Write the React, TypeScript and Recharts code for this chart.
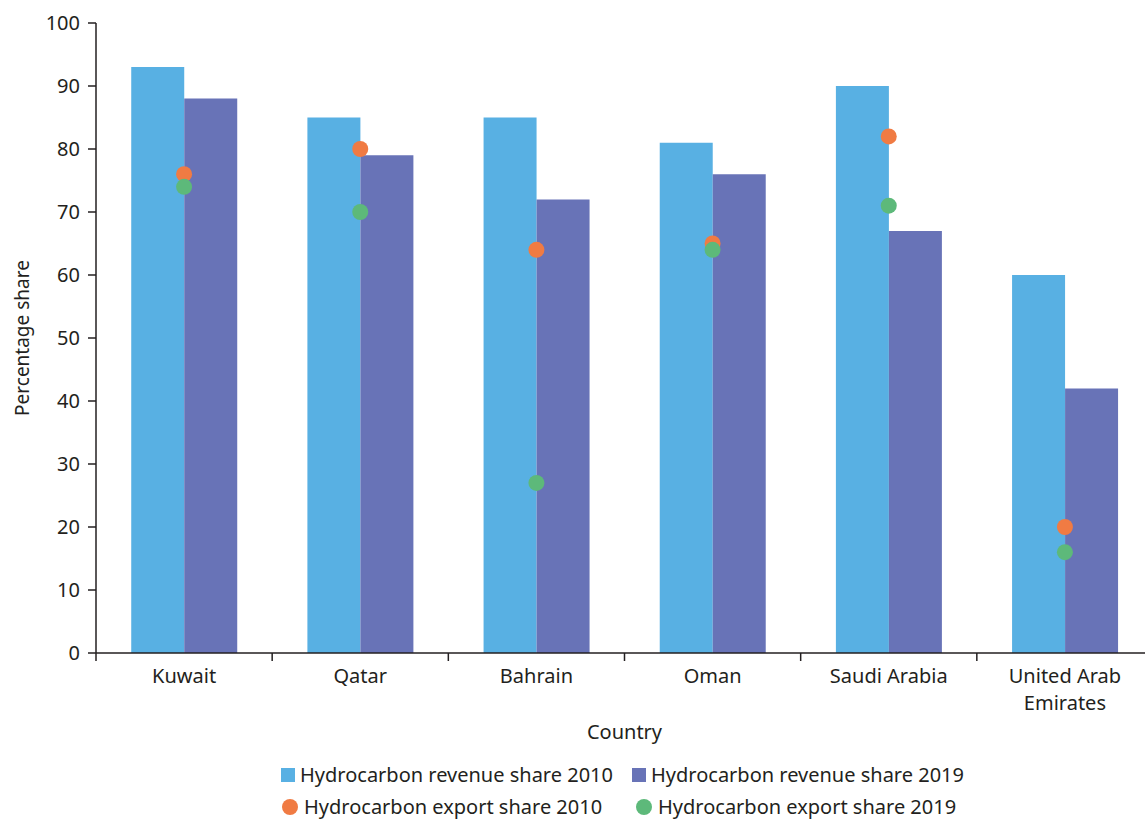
import React from 'react';
import { ComposedChart, Bar, Line, XAxis, YAxis } from 'recharts';

// Hydrocarbon dependence of GCC economies (percentage shares)
const countries = ['Kuwait', 'Qatar', 'Bahrain', 'Oman', 'Saudi Arabia', 'United Arab Emirates'];
const revenue2010 = [93, 85, 85, 81, 90, 60];
const revenue2019 = [88, 79, 72, 76, 67, 42];
const export2010 = [76, 80, 64, 65, 82, 20];
const export2019 = [74, 70, 27, 64, 71, 16];
const yTicks = [0, 10, 20, 30, 40, 50, 60, 70, 80, 90, 100];

const seriesNames = {
  revenue2010: 'Hydrocarbon revenue share 2010',
  revenue2019: 'Hydrocarbon revenue share 2019',
  export2010: 'Hydrocarbon export share 2010',
  export2019: 'Hydrocarbon export share 2019',
};

const COLORS = {
  revenue2010: '#58B0E3',
  revenue2019: '#6873B7',
  export2010: '#F07B43',
  export2019: '#5DB97A',
};

const TEXT = '#231F20';
const FONT = '"Noto Sans", sans-serif';
const TICK_SIZE = 8;
const TICK_MARGIN = 8;

const data = countries.map((country, i) => ({
  country,
  revenue2010: revenue2010[i],
  revenue2019: revenue2019[i],
  export2010: export2010[i],
  export2019: export2019[i],
}));

// Wrap long category names onto several lines
function wrapWords(label: string, maxChars: number): string[] {
  const words = label.split(' ');
  const lines: string[] = [];
  let current = '';
  for (const w of words) {
    const next = current ? current + ' ' + w : w;
    if (next.length > maxChars && current) {
      lines.push(current);
      current = w;
    } else {
      current = next;
    }
  }
  if (current) lines.push(current);
  return lines;
}

// Category label plus tick marks on the band boundaries
const CountryTick = (props: any) => {
  const { x, y, payload, index, visibleTicksCount, width } = props;
  const half =
    payload && typeof payload.offset === 'number' && payload.offset > 0
      ? payload.offset
      : width / (visibleTicksCount || countries.length) / 2;
  const axisY = y - TICK_SIZE - TICK_MARGIN;
  const lines = wrapWords(String(payload.value), 12);
  const last = index === (visibleTicksCount || countries.length) - 1;
  return (
    <g>
      <line x1={x - half} x2={x - half} y1={axisY} y2={axisY + TICK_SIZE} stroke={TEXT} strokeWidth={1.5} />
      {last && (
        <line x1={x + half} x2={x + half} y1={axisY} y2={axisY + TICK_SIZE} stroke={TEXT} strokeWidth={1.5} />
      )}
      <text x={x} y={y} textAnchor="middle" fill={TEXT} fontSize={20} fontFamily={FONT}>
        {lines.map((line, i) => (
          <tspan key={i} x={x} dy={i === 0 ? '0.71em' : 27}>
            {line}
          </tspan>
        ))}
      </text>
    </g>
  );
};

const XLabel = (props: any) => {
  const vb = props.viewBox;
  return (
    <text
      x={vb.x + vb.width / 2}
      y={vb.y + 78}
      textAnchor="middle"
      dominantBaseline="central"
      fill={TEXT}
      fontSize={20}
      fontFamily={FONT}
    >
      Country
    </text>
  );
};

const YLabel = (props: any) => {
  const vb = props.viewBox;
  const cx = 22;
  const cy = vb.y + vb.height / 2;
  return (
    <text
      x={cx}
      y={cy}
      transform={`rotate(-90 ${cx} ${cy})`}
      textAnchor="middle"
      dominantBaseline="central"
      fill={TEXT}
      fontSize={19}
      fontFamily={FONT}
    >
      Percentage share
    </text>
  );
};

const LegendItem = ({
  left,
  top,
  shape,
  color,
  label,
}: {
  left: number;
  top: number;
  shape: 'square' | 'circle';
  color: string;
  label: string;
}) => (
  <div
    style={{
      position: 'absolute',
      left,
      top,
      display: 'flex',
      alignItems: 'center',
      height: 30,
      whiteSpace: 'nowrap',
    }}
  >
    <span
      style={{
        display: 'inline-block',
        width: shape === 'square' ? 14 : 16,
        height: shape === 'square' ? 14 : 16,
        borderRadius: shape === 'circle' ? '50%' : 0,
        background: color,
        marginRight: shape === 'square' ? 5 : 6,
      }}
    />
    <span style={{ fontSize: 20, color: TEXT, fontFamily: FONT, lineHeight: '30px' }}>{label}</span>
  </div>
);

export default function App() {
  return (
    <div
      style={{
        position: 'absolute',
        left: 0,
        top: 0,
        width: 1145,
        height: 819,
        overflow: 'hidden',
        background: '#ffffff',
        fontFamily: FONT,
      }}
    >
      <ComposedChart
        width={1160}
        height={760}
        data={data}
        margin={{ top: 23, right: 7, bottom: 0, left: 0 }}
        barCategoryGap="20%"
        barGap={0}
      >
        <XAxis
          dataKey="country"
          height={107}
          tick={<CountryTick />}
          tickSize={TICK_SIZE}
          tickMargin={TICK_MARGIN}
          axisLine={{ stroke: TEXT, strokeWidth: 1.5 }}
          tickLine={false}
          interval={0}
          label={<XLabel />}
        />
        <YAxis
          width={96}
          domain={[0, 100]}
          ticks={yTicks}
          interval={0}
          tickSize={TICK_SIZE}
          tickMargin={TICK_MARGIN}
          axisLine={{ stroke: TEXT, strokeWidth: 1.5 }}
          tickLine={{ stroke: TEXT, strokeWidth: 1.5 }}
          tick={{ fill: TEXT, fontSize: 20, fontFamily: FONT }}
          label={<YLabel />}
        />
        <Bar
          dataKey="revenue2010"
          name={seriesNames.revenue2010}
          fill={COLORS.revenue2010}
          isAnimationActive={false}
        />
        <Bar
          dataKey="revenue2019"
          name={seriesNames.revenue2019}
          fill={COLORS.revenue2019}
          isAnimationActive={false}
        />
        <Line
          dataKey="export2010"
          name={seriesNames.export2010}
          stroke="none"
          dot={{ r: 8, fill: COLORS.export2010, stroke: 'none' }}
          activeDot={false}
          isAnimationActive={false}
        />
        <Line
          dataKey="export2019"
          name={seriesNames.export2019}
          stroke="none"
          dot={{ r: 8, fill: COLORS.export2019, stroke: 'none' }}
          activeDot={false}
          isAnimationActive={false}
        />
      </ComposedChart>
      <LegendItem left={281} top={760} shape="square" color={COLORS.revenue2010} label={seriesNames.revenue2010} />
      <LegendItem left={632} top={760} shape="square" color={COLORS.revenue2019} label={seriesNames.revenue2019} />
      <LegendItem left={282} top={792} shape="circle" color={COLORS.export2010} label={seriesNames.export2010} />
      <LegendItem left={636} top={792} shape="circle" color={COLORS.export2019} label={seriesNames.export2019} />
    </div>
  );
}
